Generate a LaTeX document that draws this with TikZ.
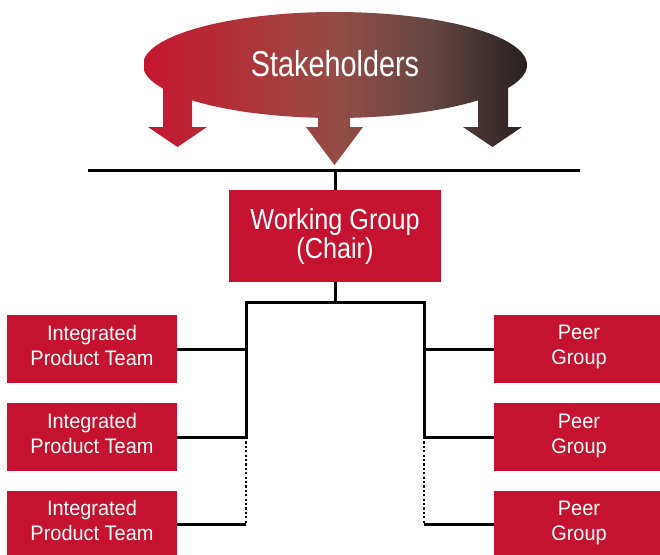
\documentclass[tikz,border=0pt]{standalone}
\usepackage{fontspec}
\setmainfont{Liberation Sans}
\newfontfamily\stakefont{Liberation Sans}[FakeStretch=0.8]
\newfontfamily\chairfont{Liberation Sans}[FakeStretch=0.87]
\newfontfamily\teamfont{Liberation Sans}[FakeStretch=0.95]
\usepackage{tikz}
\usetikzlibrary{positioning,calc}
\definecolor{boxred}{RGB}{196,18,48}
\definecolor{stakeA}{RGB}{197,22,48}
\definecolor{stakeB}{RGB}{176,50,56}
\definecolor{stakeM}{RGB}{148,76,70}
\definecolor{stakeD}{RGB}{100,70,66}
\definecolor{stakeR}{RGB}{38,32,32}
\pgfdeclarehorizontalshading{stakeshade}{100bp}{color(0bp)=(stakeA); color(25bp)=(stakeA); color(37.5bp)=(stakeB); color(50bp)=(stakeM); color(62.5bp)=(stakeD); color(75bp)=(stakeR); color(100bp)=(stakeR)}
\tikzset{
  chairbox/.style={fill=boxred, text=white, minimum width=212pt, minimum height=92pt, inner sep=0pt, align=center, font=\chairfont\fontsize{29}{29}\selectfont},
  teambox/.style={fill=boxred, text=white, minimum width=170pt, minimum height=68pt, inner sep=0pt, text depth=8pt, align=center, font=\teamfont\fontsize{21}{25}\selectfont},
  orgline/.style={line width=3pt, draw=black},
  tailline/.style={draw=black, line width=2.6pt, dash pattern=on 2.2pt off 2.2pt}
}
\begin{document}
\begin{tikzpicture}[x=1pt, y=-1pt]
    \clip (0,0) rectangle (660,554);
    % stakeholder cloud with its three arrows
    \begin{scope}
      \clip (335,65) ellipse [x radius=192pt, y radius=53pt];
      \shade[shading=stakeshade] (144,12) rectangle (528,166);
    \end{scope}
    \foreach \sl/\sr/\hl/\hr/\st/\tip in {163/192/148/207/80/147, 318/350/306/363/100/165, 478/508/463/522/80/147} {
      \begin{scope}
        \clip (\sl,\st) -- (\sl,127) -- (\hl,127) -- ({(\hl+\hr)/2},\tip) -- (\hr,127) -- (\sr,127) -- (\sr,\st) -- cycle;
        \shade[shading=stakeshade] (144,12) rectangle (528,166);
      \end{scope}
    }
    \node[text=white, font=\stakefont\fontsize{36}{36}\selectfont] (stake) at (335,64) {Stakeholders};
    % boxes
    \node[chairbox] (wg) at (335,236) {Working Group\\(Chair)};
    \node[teambox] (ipt1) at (92,349) {Integrated\\Product Team};
    \node[teambox, below=20pt of ipt1] (ipt2) {Integrated\\Product Team};
    \node[teambox, below=19pt of ipt2] (ipt3) {Integrated\\Product Team};
    \node[teambox] (peer1) at (579,349) {Peer\\Group};
    \node[teambox, below=20pt of peer1] (peer2) {Peer\\Group};
    \node[teambox, below=19pt of peer2] (peer3) {Peer\\Group};
    % connectors
    \coordinate (busL) at (88,170);
    \coordinate (busR) at (580,170);
    \coordinate (split) at ($(wg.south)+(0,-20pt)$);
    \coordinate (lbr) at (split -| 246,0);
    \coordinate (rbr) at (split -| 424,0);
    \draw[orgline] (busL) -- (busR);
    \draw[orgline] (wg.north) -- (wg.north |- busL);
    \draw[orgline] (wg.south) -- (split);
    \draw[orgline] (ipt2.east) -- (ipt2.east -| lbr) -- (lbr) -- (rbr) -- (rbr |- peer2.west) -- (peer2.west);
    \draw[orgline] (ipt1.east) -- (ipt1.east -| lbr);
    \draw[orgline] (peer1.west) -- (peer1.west -| rbr);
    \draw[tailline] ($(ipt2.east -| lbr)+(0,4)$) -- (ipt3.east -| lbr);
    \draw[tailline] ($(peer2.west -| rbr)+(0,4)$) -- (peer3.west -| rbr);
    \draw[orgline] (ipt3.east) -- (ipt3.east -| lbr);
    \draw[orgline] (peer3.west) -- (peer3.west -| rbr);
\end{tikzpicture}
\end{document}
